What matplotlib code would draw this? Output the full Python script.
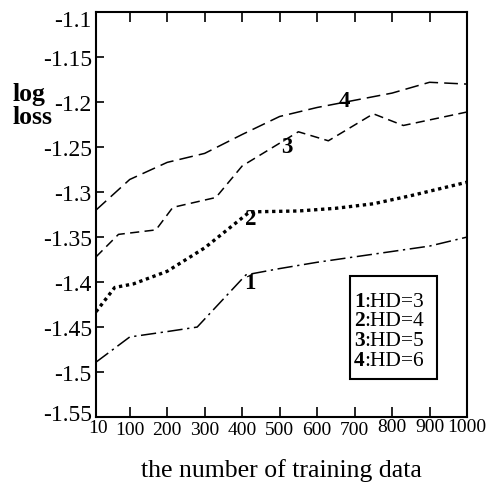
import matplotlib
matplotlib.use("Agg")
import matplotlib.pyplot as plt
import matplotlib.transforms as mtransforms
from matplotlib.patches import Rectangle

plt.rcParams['font.family'] = ['Liberation Serif', 'DejaVu Serif']

# data
x1 = [10, 100, 200, 280, 410, 500, 600, 700, 800, 900, 1000]
y1 = [-1.489, -1.461, -1.455, -1.450, -1.392, -1.385, -1.378, -1.372, -1.366, -1.360, -1.350]

x2 = [10, 60, 110, 200, 300, 420, 550, 650, 750, 850, 1000]
y2 = [-1.433, -1.406, -1.402, -1.388, -1.362, -1.322, -1.321, -1.318, -1.313, -1.304, -1.289]

x3 = [10, 70, 170, 215, 330, 400, 550, 630, 750, 830, 1000]
y3 = [-1.372, -1.347, -1.342, -1.317, -1.306, -1.271, -1.233, -1.243, -1.213, -1.226, -1.211]

x4 = [10, 100, 200, 300, 400, 500, 600, 700, 800, 900, 1000]
y4 = [-1.320, -1.286, -1.267, -1.257, -1.236, -1.216, -1.206, -1.198, -1.190, -1.178, -1.180]

xticks = [10, 100, 200, 300, 400, 500, 600, 700, 800, 900, 1000]
yticks = [-1.55, -1.5, -1.45, -1.4, -1.35, -1.3, -1.25, -1.2, -1.15, -1.1]
legend_lines = [('1', ':HD=3'), ('2', ':HD=4'), ('3', ':HD=5'), ('4', ':HD=6')]
# where the curve numbers sit (data coords)
curve_tags = [('1', 421, -1.401), ('2', 423, -1.329), ('3', 520, -1.249), ('4', 672, -1.198)]

fig = plt.figure(figsize=(4.88, 4.85), dpi=100)
ax = fig.add_axes([0.1967, 0.138, 0.7603, 0.835])

ax.plot(x1, y1, color='black', lw=1.1, ls=(0, (10, 3, 1.5, 3)))
ax.plot(x2, y2, color='black', lw=2.4, ls=(0, (1, 1.1)))
ax.plot(x3, y3, color='black', lw=1.1, ls=(0, (6, 3.5)))
ax.plot(x4, y4, color='black', lw=1.1, ls=(0, (9, 4)))

for t, tx, ty in curve_tags:
    ax.text(tx, ty, t, fontsize=16.5, fontweight='bold', ha='center', va='center')

ax.set_xlim(10, 1000)
ax.set_ylim(-1.55, -1.1)
ax.set_xticks(xticks)
ax.set_xticklabels([str(v) for v in xticks], fontsize=14)
ax.set_yticks(yticks)
ax.set_yticklabels(['%g' % v for v in yticks], fontsize=17)

ax.tick_params(axis='x', direction='in', top=True, length=7, width=1.2, pad=3)
ax.tick_params(axis='y', direction='in', right=False, length=6, width=1.2, pad=3)
for s in ax.spines.values():
    s.set_linewidth(1.5)


def nudge(lab, dx, dy):
    lab.set_transform(lab.get_transform() +
                      mtransforms.ScaledTranslation(dx / 100, dy / 100, fig.dpi_scale_trans))


# a few labels sit off their ticks in the original
for lab in ax.get_xticklabels():
    if lab.get_text() == '10':
        nudge(lab, 2, 2)
    elif lab.get_text() in ('800', '900', '1000'):
        nudge(lab, 0, 3)
ylabs = ax.get_yticklabels()
nudge(ylabs[0], 0, 5)
nudge(ylabs[-1], 0, -6)

ax.set_xlabel('the number of training data', fontsize=18.5, labelpad=14)
fig.text(13 / 488, 1 - 106 / 485, 'log\nloss', fontsize=18.5, fontweight='bold',
         ha='left', va='center', linespacing=0.95)

# legend box
ax.add_patch(Rectangle((0.685, 0.0938), 0.234, 0.254, transform=ax.transAxes,
                       fill=False, edgecolor='black', lw=1.5))
ys = [0.274, 0.227, 0.178, 0.128]
for (num, rest), yy in zip(legend_lines, ys):
    t = ax.text(0.695, yy, num, transform=ax.transAxes, fontsize=15.5,
                fontweight='bold', va='baseline', ha='left')
    ax.annotate(rest, xy=(1, 0), xycoords=t, fontsize=15.5, va='bottom', ha='left')

fig.savefig('out.png', dpi=100)
